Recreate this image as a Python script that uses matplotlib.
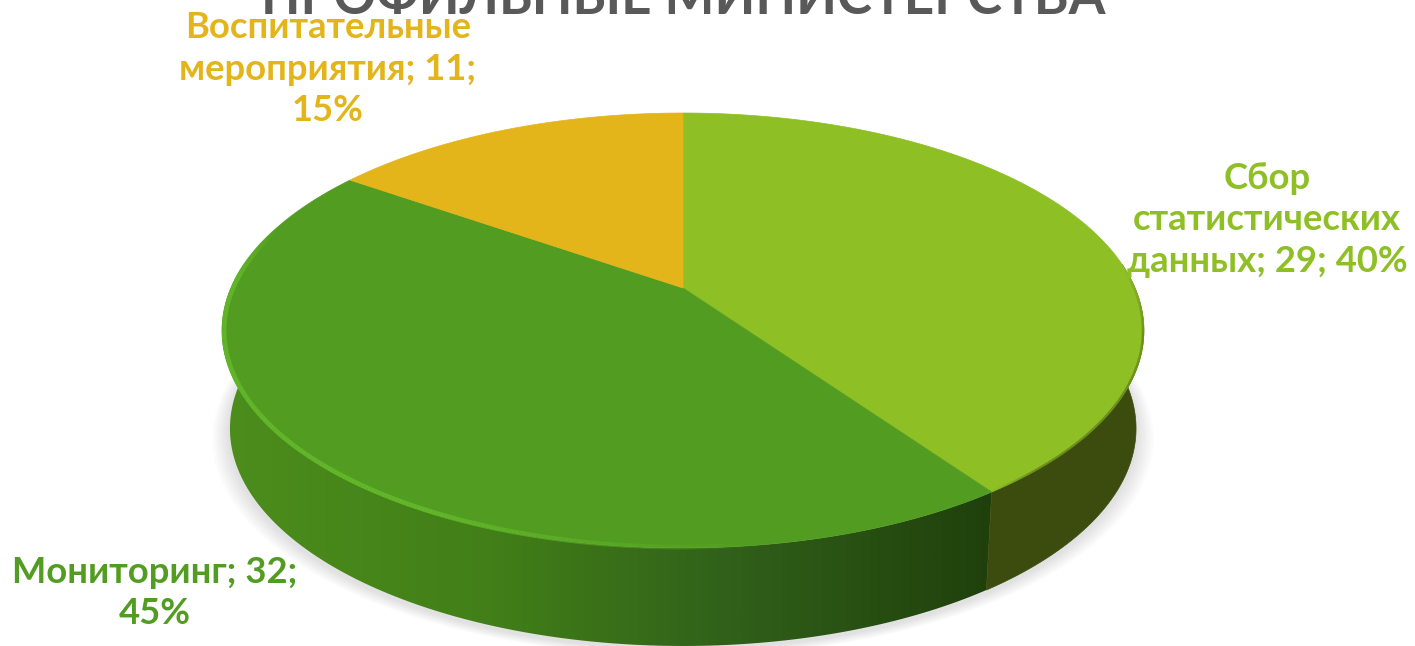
import numpy as np
import matplotlib
matplotlib.use("Agg")
import matplotlib.pyplot as plt
from matplotlib.collections import LineCollection
from matplotlib.colors import LinearSegmentedColormap, to_rgb
from matplotlib.patches import Polygon

# ---- data ----
categories = ["Сбор статистических данных", "Мониторинг", "Воспитательные мероприятия"]
values = [29, 32, 11]
percents = [40, 45, 15]
title = "ПРОФИЛЬНЫЕ МИНИСТЕРСТВА"
label_texts = ["Сбор\nстатистических\nданных; 29; 40%",
               "Мониторинг; 32;\n45%",
               "Воспитательные\nмероприятия; 11;\n15%"]
top_colors = ["#8ebf24", "#529d21", "#e3b51a"]
side_colors = ["#3c4c0e", "#1f3f0b", "#7a6010"]
label_colors = ["#8ebf24", "#529d21", "#e3b51a"]
label_pos = [(1267, 220), (155, 593), (328, 69)]

FONT = "Lato"
CX, CY, K, Q, A = 683.0, 288.0, 0.1954, -152.9, 452.0
DEPTH, SHRINK = 98.0, 0.983


def project(phi, r=1.0):
    """Perspective projection of a pie disc (phi clockwise from 12 o'clock)."""
    u, v = r * np.sin(phi), r * np.cos(phi)
    d = 1 + K * v
    return CX + A * u / d, (CY + Q * v) / d


def lower(x, y):
    return CX + (x - CX) * SHRINK, y + DEPTH


fig = plt.figure(figsize=(14.15, 6.46), dpi=100, facecolor="white")
ax = fig.add_axes([0, 0, 1, 1])
ax.axis("off")

angles = np.concatenate([[0], np.cumsum(values)]) / np.sum(values) * 2 * np.pi

# soft shadow under the pie
phi = np.linspace(0, 2 * np.pi, 361)
px, py = project(phi)
lx, ly = lower(px, py)
for grow in np.linspace(18, 2, 10):
    ax.add_patch(Polygon(np.c_[CX + (lx - CX) * (1 + grow / 460), ly + grow * 0.4 + 3],
                         closed=True, fc="black", ec="none", alpha=0.012, zorder=1))

# side wall
side_green = LinearSegmentedColormap.from_list(
    "side", [(0, "#4c8e1d"), (0.35, "#427f18"), (0.65, "#31611a"), (1, "#1f3f0b")])
for i in range(3):
    t = np.linspace(angles[i], angles[i + 1], 300)
    t = t[np.cos(t) < 0.12]
    if len(t) < 2:
        continue
    x, y = project(t)
    bx, by = lower(x, y)
    outline = np.r_[np.c_[x, y], np.c_[bx, by][::-1]]
    if i == 1:
        # horizontal gradient clipped to the wall of this slice
        poly = Polygon(outline, closed=True, fc="none", ec="none")
        ax.add_patch(poly)
        img = ax.imshow(np.linspace(0, 1, 512)[None, :], cmap=side_green, aspect="auto",
                        extent=(215, 1000, 646, 0), zorder=2, interpolation="bilinear")
        img.set_clip_path(poly)
    else:
        ax.add_patch(Polygon(outline, closed=True, fc=side_colors[i], ec=side_colors[i],
                             lw=0.5, zorder=2.5))
ax.set_xlim(0, 1415)
ax.set_ylim(646, 0)

# top face
for i in range(3):
    t = np.linspace(angles[i], angles[i + 1], 200)
    x, y = project(t)
    ax.add_patch(Polygon(np.r_[[[CX, CY]], np.c_[x, y]], closed=True,
                         fc=top_colors[i], ec=top_colors[i], lw=0.5, zorder=3))


def rim(start, end, r, dy, width, color, peak=1.0):
    """A bevel highlight along the disc edge, fading out towards both ends."""
    t = np.linspace(start, end, 240)
    x, y = project(t, r)
    pts = np.c_[x, y + dy]
    segs = np.stack([pts[:-1], pts[1:]], axis=1)
    s = np.linspace(0, 1, len(segs))
    fade = np.clip(np.minimum(s / 0.3, (1 - s) / 0.12), 0, 1) * peak
    cols = np.c_[np.tile(to_rgb(color), (len(segs), 1)), fade]
    ax.add_collection(LineCollection(segs, colors=cols, linewidths=width,
                                     capstyle="butt", zorder=4))


rim(np.radians(172), np.radians(288), 0.996, 0.5, 3.4, "#62b62a")
rim(angles[0] + np.radians(85), angles[1], 0.998, 0.5, 1.6, "#5f7f18", 0.8)

# labels and clipped title
for txt, pos, col in zip(label_texts, label_pos, label_colors):
    ax.text(*pos, txt, color=col, fontsize=26.2, fontweight="bold", family=FONT,
            ha="center", va="center", linespacing=1.33, zorder=6)
ax.text(683, 14, title, color="#595959", fontsize=38.2, fontweight="bold", family=FONT,
        ha="center", va="baseline", zorder=5)

fig.savefig("out.png", dpi=100)
